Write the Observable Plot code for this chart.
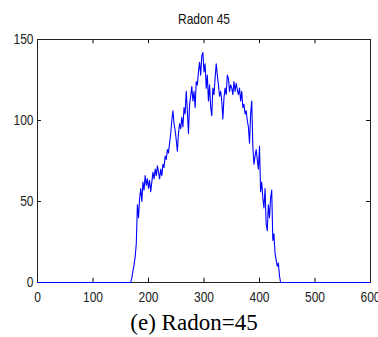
<!DOCTYPE html>
<html>
<head>
<meta charset="utf-8">
<script src="https://cdn.jsdelivr.net/npm/d3@7"></script>
<script src="https://cdn.jsdelivr.net/npm/@observablehq/plot@0.6"></script>
<style>
html, body { margin: 0; padding: 0; background: #fff; width: 378px; height: 337px; overflow: hidden; }
#chart svg { display: block; }
#caption { font-family: "Liberation Serif", "Times New Roman", serif; font-size: 23px; text-align: center; width: 378px; margin-left: 5px; line-height: 26px; margin-top: 10px; color: #000; white-space: nowrap; }
</style>
</head>
<body>
<div id="chart"></div>
<div id="caption">(e) Radon=45</div>
<script>
const titleText = "Radon 45";
const xTicks = [0, 100, 200, 300, 400, 500, 600];
const yTicks = [0, 50, 100, 150];
const positions = [0, 166, 168, 170, 172, 174, 176, 178, 180, 182, 184, 186, 188, 190, 192, 194, 196, 198,
  200, 202, 204, 206, 208, 210, 212, 214, 216, 218, 220, 222, 224, 226, 228, 230, 232, 234, 236, 238,
  240, 242, 244, 246, 248, 250, 252, 254, 256, 258, 260, 262, 264, 266, 268, 270, 272, 274, 276, 278,
  280, 282, 284, 286, 288, 290, 292, 294, 296, 298, 300, 302, 304, 306, 308, 310, 312, 314, 316, 318,
  320, 322, 324, 326, 328, 330, 332, 334, 336, 338, 340, 342, 344, 346, 348, 350, 352, 354, 356, 358,
  360, 362, 364, 366, 368, 370, 372, 374, 376, 378, 380, 382, 384, 386, 388, 390, 392, 394, 396, 398,
  400, 402, 404, 406, 408, 410, 412, 414, 416, 418, 420, 422, 424, 426, 428, 430, 432, 434, 436, 438, 600];
const counts = [0, 0, 0, 3, 7, 11, 16, 24, 48, 40, 52, 58, 50, 62, 57, 66, 60, 64,
  58, 63, 56, 62, 68, 64, 70, 66, 72, 68, 64, 70, 66, 73, 71, 78, 76, 82, 80, 86,
  92, 100, 106, 98, 94, 88, 81, 92, 98, 95, 102, 96, 108, 104, 118, 106, 92, 110, 115, 121,
  112, 118, 108, 124, 122, 130, 136, 128, 140, 142, 130, 135, 120, 128, 112, 122, 108, 103, 120, 116,
  126, 135, 128, 122, 115, 118, 112, 101, 114, 120, 116, 128, 126, 118, 122, 120, 116, 124, 118, 123,
  119, 116, 120, 112, 118, 108, 110, 104, 106, 100, 96, 86, 104, 112, 84, 73, 78, 82, 76, 70,
  84, 56, 62, 52, 46, 58, 36, 32, 48, 40, 52, 57, 26, 30, 18, 14, 10, 12, 4, 0, 0];

const data = positions.map((x, i) => ({x, y: counts[i]}));
const font = '"Liberation Sans", Arial, sans-serif';

const chart = Plot.plot({
  width: 378,
  height: 300,
  marginLeft: 37,
  marginRight: 8,
  marginTop: 39,
  marginBottom: 18,
  style: {fontFamily: font, fontSize: "15px", color: "#222", background: "#fff", overflow: "visible"},
  x: {domain: [0, 600], ticks: xTicks},
  y: {domain: [0, 150], ticks: yTicks},
  marks: [
    Plot.ruleX(xTicks, {x: d => d, y1: 0, y2: 2.6, stroke: "#000"}),
    Plot.ruleX(xTicks, {x: d => d, y1: 147.4, y2: 150, stroke: "#000"}),
    Plot.ruleY(yTicks, {y: d => d, x1: 0, x2: 7, stroke: "#000"}),
    Plot.ruleY(yTicks, {y: d => d, x1: 593, x2: 600, stroke: "#000"}),
    Plot.frame({stroke: "#222"}),
    Plot.lineY(data, {x: "x", y: "y", stroke: "#0000ff", strokeWidth: 1.1}),
    Plot.axisX({ticks: xTicks, tickSize: 0, tickPadding: 9, label: null, fontSize: 15}),
    Plot.axisY({ticks: yTicks, tickSize: 0, tickPadding: 4, label: null, fontSize: 15}),
    Plot.text([titleText], {text: d => d, frameAnchor: "top", dy: -26, fontSize: 15, fill: "#111"})
  ]
});
document.getElementById("chart").appendChild(chart);
// narrow the sans-serif labels to match the condensed look of the reference
chart.querySelectorAll("text").forEach(t => {
  const len = t.getComputedTextLength();
  if (len > 0) {
    t.setAttribute("textLength", (len * 0.8).toFixed(2));
    t.setAttribute("lengthAdjust", "spacingAndGlyphs");
  }
});
</script>
</body>
</html>
